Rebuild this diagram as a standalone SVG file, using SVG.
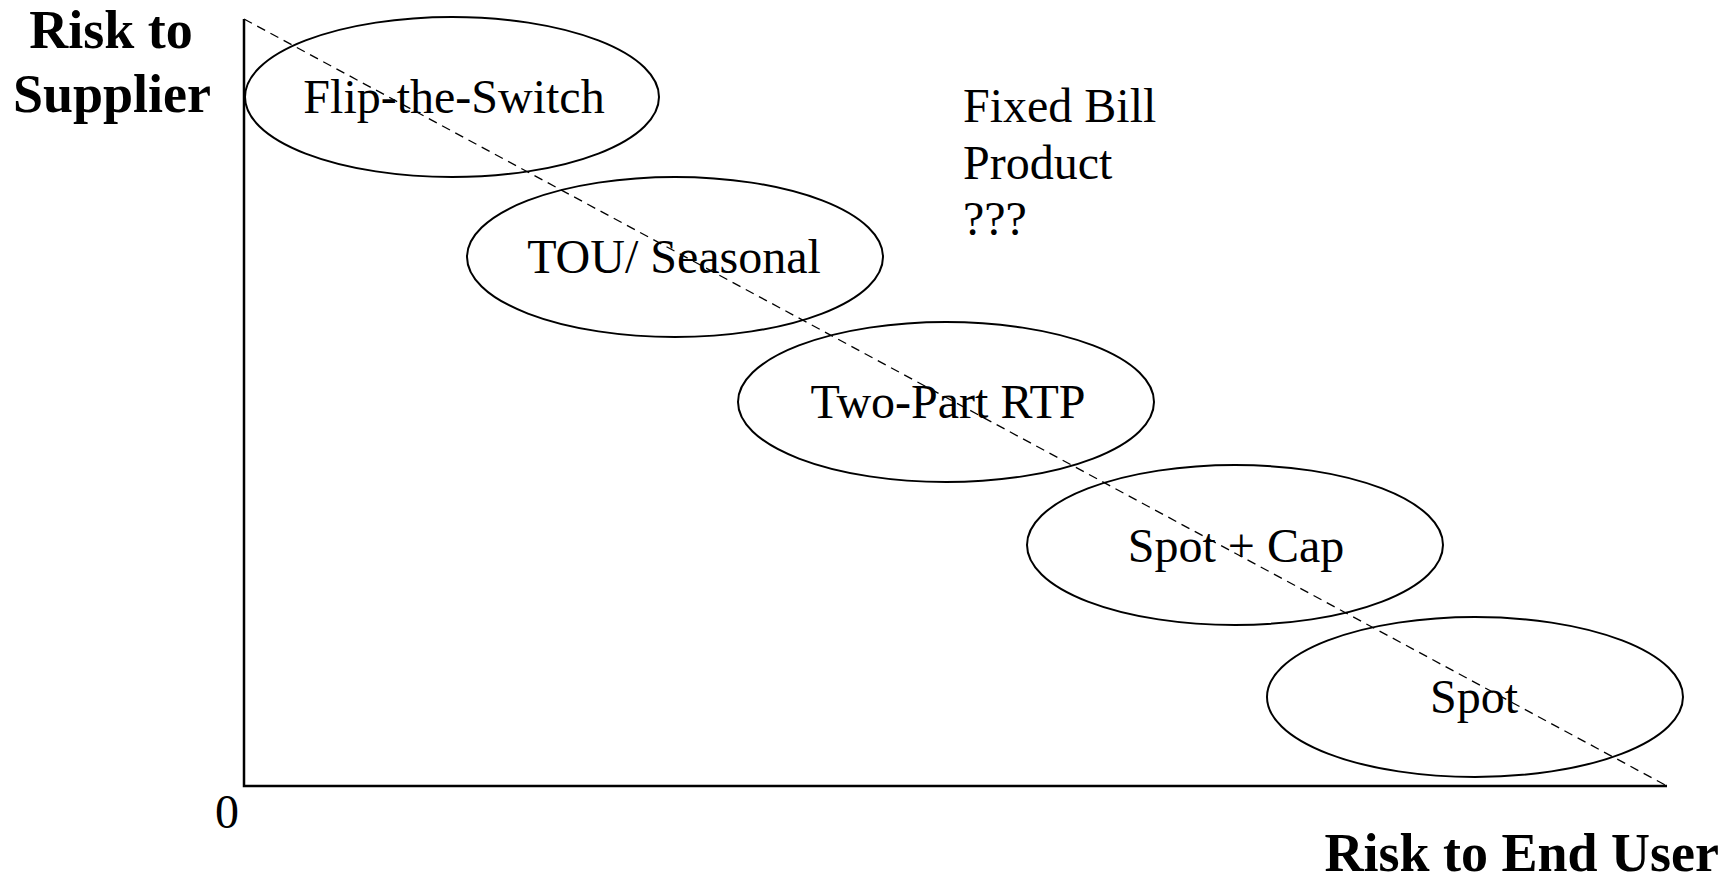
<svg xmlns="http://www.w3.org/2000/svg" width="1731" height="880" viewBox="0 0 1731 880">
<style>
.t{font-family:"Liberation Serif","Times New Roman",serif;font-size:48px;fill:#000}
.b{font-family:"Liberation Serif","Times New Roman",serif;font-size:54px;font-weight:bold;fill:#000}
.e{fill:none;stroke:#000;stroke-width:2}
.ax{fill:none;stroke:#000;stroke-width:2.5}
.dash{fill:none;stroke:#000;stroke-width:1.3;stroke-dasharray:9 6}
</style>
<rect width="1731" height="880" fill="#fff"/>
<g id="axes">
<polyline class="ax" points="244,19 244,786 1667,786"/>
<text class="b" x="111" y="48" text-anchor="middle">Risk to</text>
<text class="b" x="112" y="112" text-anchor="middle">Supplier</text>
<text class="t" x="215" y="828">0</text>
<text class="b" x="1719" y="871" text-anchor="end">Risk to End User</text>
</g>
<g id="connectors">
<line class="dash" x1="244" y1="19" x2="1667" y2="786"/>
</g>
<g id="flip">
<ellipse class="e" cx="452" cy="97" rx="207" ry="80"/>
<text class="t" x="454" y="113" text-anchor="middle">Flip-the-Switch</text>
</g>
<g id="tou">
<ellipse class="e" cx="675" cy="257" rx="208" ry="80"/>
<text class="t" x="674" y="273" text-anchor="middle">TOU/ Seasonal</text>
</g>
<g id="twopart">
<ellipse class="e" cx="946" cy="402" rx="208" ry="80"/>
<text class="t" x="948" y="418" text-anchor="middle">Two-Part RTP</text>
</g>
<g id="spotcap">
<ellipse class="e" cx="1235" cy="545" rx="208" ry="80"/>
<text class="t" x="1236" y="562" text-anchor="middle">Spot + Cap</text>
</g>
<g id="spot">
<ellipse class="e" cx="1475" cy="697" rx="208" ry="80"/>
<text class="t" x="1474" y="713" text-anchor="middle">Spot</text>
</g>
<g id="fixedbill">
<text class="t" x="963" y="122">Fixed Bill</text>
<text class="t" x="963" y="179">Product</text>
<text class="t" x="963" y="235">???</text>
</g>
</svg>
